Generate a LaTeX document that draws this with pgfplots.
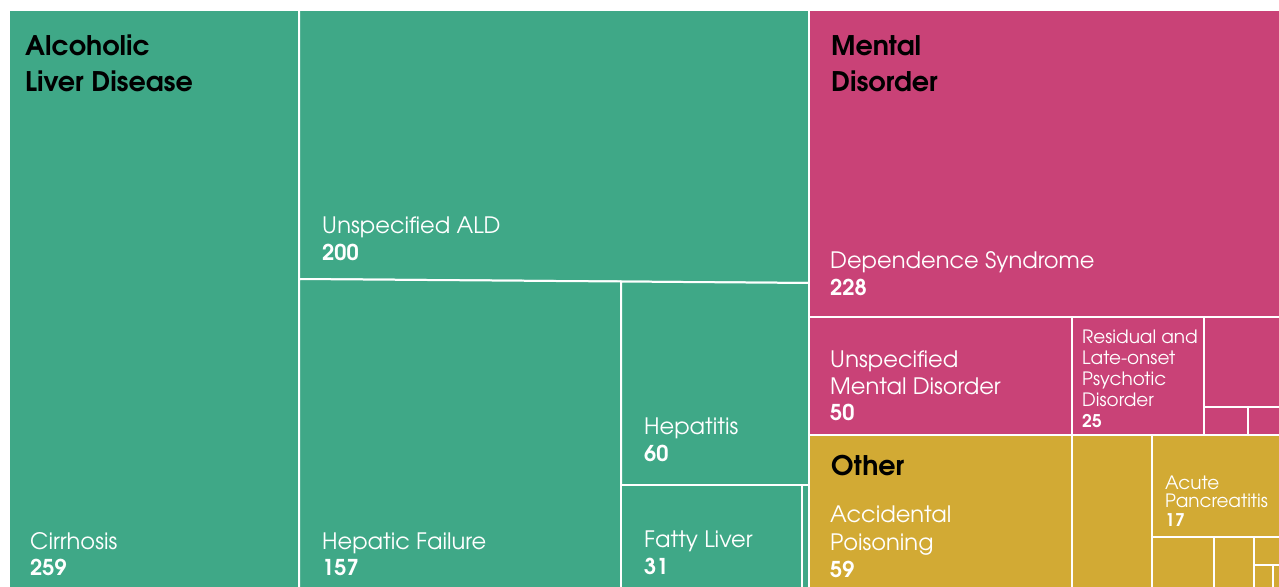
\documentclass[border=0pt]{standalone}
\usepackage{pgfplots}
\pgfplotsset{compat=1.18}
\usepackage{fontspec}
\setmainfont{texgyreadventor}[Extension=.otf, UprightFont=*-regular, BoldFont=*-bold, ItalicFont=*-italic, BoldItalicFont=*-bolditalic]
\definecolor{cgreen}{HTML}{3FA887}
\definecolor{cpink}{HTML}{C94277}
\definecolor{cgold}{HTML}{D2AA34}
\newcommand{\ttl}[3]{\node[anchor=base west, inner sep=0pt, text=black, font=\fontsize{27}{27}\selectfont\bfseries] at (axis cs:#1,#2) {#3};}
\newcommand{\lab}[3]{\node[anchor=base west, inner sep=0pt, text=white, font=\fontsize{22.6}{22.6}\selectfont] at (axis cs:#1,#2) {#3};}
\newcommand{\num}[3]{\node[anchor=base west, inner sep=0pt, text=white, font=\fontsize{21.8}{21.8}\selectfont\bfseries] at (axis cs:#1,#2) {#3};}
\newcommand{\slab}[3]{\node[anchor=base west, inner sep=0pt, text=white, font=\fontsize{18.4}{18.4}\selectfont] at (axis cs:#1,#2) {#3};}
\newcommand{\snum}[3]{\node[anchor=base west, inner sep=0pt, text=white, font=\fontsize{17.5}{17.5}\selectfont\bfseries] at (axis cs:#1,#2) {#3};}
\begin{document}
\begin{tikzpicture}
\begin{axis}[
  scale only axis, width=1279pt, height=586pt,
  xmin=0, xmax=1279, ymin=0, ymax=586, y dir=reverse,
  hide axis, clip=true,
]
% background
\addplot[fill=white, draw=none] coordinates {(0,0) (1279,0) (1279,586) (0,586)} -- cycle;
% ---- Alcoholic Liver Disease (green)
\addplot[fill=cgreen, draw=white, line width=2pt] coordinates {(9,10) (299,10) (299,590) (9,590)} -- cycle; % Cirrhosis 259
\addplot[fill=cgreen, draw=white, line width=2pt] coordinates {(299,10) (809,10) (809,283) (299,279)} -- cycle; % Unspecified ALD 200
\addplot[fill=cgreen, draw=white, line width=2pt] coordinates {(299,279) (621,281.5) (621,590) (299,590)} -- cycle; % Hepatic Failure 157
\addplot[fill=cgreen, draw=white, line width=2pt] coordinates {(621,281.5) (809,283) (809,485) (621,485)} -- cycle; % Hepatitis 60
\addplot[fill=cgreen, draw=white, line width=2pt] coordinates {(621,485) (802,485) (802,590) (621,590)} -- cycle; % Fatty Liver 31
\addplot[fill=cgreen, draw=white, line width=2pt] coordinates {(802,485) (809,485) (809,590) (802,590)} -- cycle;
% ---- Mental Disorder (pink)
\addplot[fill=cpink, draw=white, line width=2pt] coordinates {(809,10) (1285,10) (1285,317) (809,317)} -- cycle; % Dependence Syndrome 228
\addplot[fill=cpink, draw=white, line width=2pt] coordinates {(809,317) (1072,317) (1072,435) (809,435)} -- cycle; % Unspecified Mental Disorder 50
\addplot[fill=cpink, draw=white, line width=2pt] coordinates {(1072,317) (1204,317) (1204,435) (1072,435)} -- cycle; % Residual 25
\addplot[fill=cpink, draw=white, line width=2pt] coordinates {(1204,317) (1285,317) (1285,407) (1204,407)} -- cycle;
\addplot[fill=cpink, draw=white, line width=2pt] coordinates {(1204,407) (1248,407) (1248,435) (1204,435)} -- cycle;
\addplot[fill=cpink, draw=white, line width=2pt] coordinates {(1248,407) (1285,407) (1285,435) (1248,435)} -- cycle;
% ---- Other (gold)
\addplot[fill=cgold, draw=white, line width=2pt] coordinates {(809,435) (1072,435) (1072,590) (809,590)} -- cycle; % Accidental Poisoning 59
\addplot[fill=cgold, draw=white, line width=2pt] coordinates {(1072,435) (1152,435) (1152,590) (1072,590)} -- cycle;
\addplot[fill=cgold, draw=white, line width=2pt] coordinates {(1152,435) (1285,435) (1285,537) (1152,537)} -- cycle; % Acute Pancreatitis 17
\addplot[fill=cgold, draw=white, line width=2pt] coordinates {(1152,537) (1214,537) (1214,590) (1152,590)} -- cycle;
\addplot[fill=cgold, draw=white, line width=2pt] coordinates {(1214,537) (1254,537) (1254,590) (1214,590)} -- cycle;
\addplot[fill=cgold, draw=white, line width=2pt] coordinates {(1254,537) (1285,537) (1285,565) (1254,565)} -- cycle;
\addplot[fill=cgold, draw=white, line width=2pt] coordinates {(1254,565) (1273,565) (1273,590) (1254,590)} -- cycle;
\addplot[fill=cgold, draw=white, line width=2pt] coordinates {(1273,565) (1285,565) (1285,590) (1273,590)} -- cycle;
% ---- texts
\ttl{25}{56}{Alcoholic}
\ttl{25}{91}{Liver Disease}
\lab{30}{549}{Cirrhosis}
\num{30}{575}{259}
\lab{322}{233}{Unspecified ALD}
\num{322}{260}{200}
\lab{322}{549}{Hepatic Failure}
\num{322}{575}{157}
\lab{644}{434}{Hepatitis}
\num{644}{461}{60}
\lab{644}{547}{Fatty Liver}
\num{644}{574}{31}
\ttl{831}{56}{Mental}
\ttl{831}{91}{Disorder}
\lab{830}{268}{Dependence Syndrome}
\num{830}{295}{228}
\lab{830}{367}{Unspecified}
\lab{830}{394}{Mental Disorder}
\num{830}{420}{50}
\slab{1082}{343}{Residual and}
\slab{1082}{364}{Late-onset}
\slab{1082}{385}{Psychotic}
\slab{1082}{406}{Disorder}
\snum{1082}{427}{25}
\ttl{831}{475}{Other}
\lab{830}{522}{Accidental}
\lab{830}{550}{Poisoning}
\num{830}{577}{59}
\slab{1165}{489}{Acute}
\slab{1165}{507}{Pancreatitis}
\snum{1165}{526}{17}
\end{axis}
\end{tikzpicture}
\end{document}
